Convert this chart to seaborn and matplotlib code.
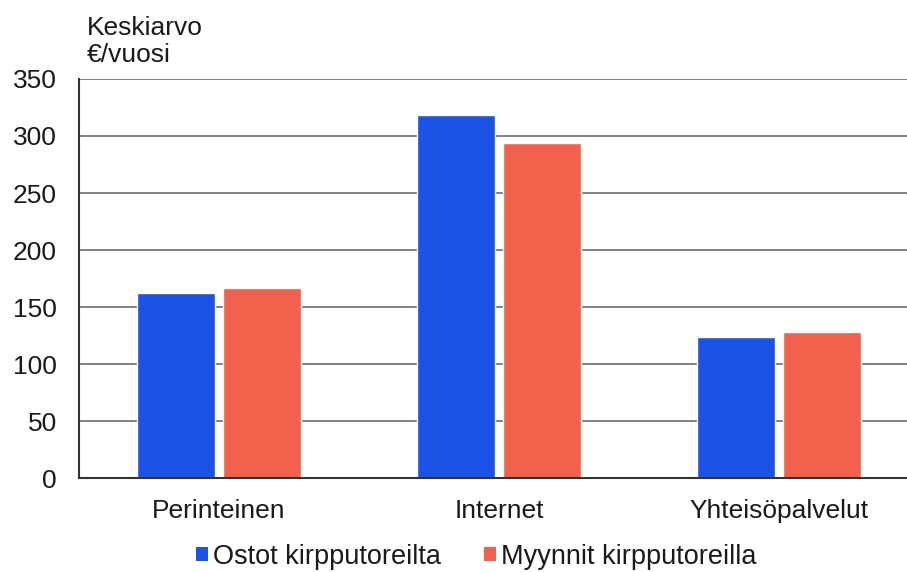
import matplotlib
matplotlib.use("Agg")
import matplotlib.pyplot as plt
import seaborn as sns
import pandas as pd
from matplotlib.patches import Patch

categories = ["Perinteinen", "Internet", "Yhteisöpalvelut"]
series_names = ["Ostot kirpputoreilta", "Myynnit kirpputoreilla"]
ostot = [162, 318, 124]
myynnit = [167, 294, 128]
y_ticks = [0, 50, 100, 150, 200, 250, 300, 350]

colors = ["#1a53e6", "#f0624b"]

df = pd.DataFrame({
    "kategoria": categories * 2,
    "sarja": [series_names[0]] * 3 + [series_names[1]] * 3,
    "arvo": ostot + myynnit,
})

sns.set_theme(style="white")
plt.rcParams["font.family"] = ["Liberation Sans", "DejaVu Sans"]

FS = 19
LEG_FS = 19.5
TXT = "#1a1a1a"

fig = plt.figure(figsize=(9.07, 5.72), dpi=100)
ax = fig.add_axes([0.0871, 0.1643, 0.9129, 0.6976])

sns.barplot(data=df, x="kategoria", y="arvo", hue="sarja", order=categories,
            hue_order=series_names, palette=colors, width=0.61, gap=0.09,
            saturation=1, legend=False, ax=ax)

ax.set_ylim(0, 350)
ax.set_xlim(-0.5, 2.457)
ax.set_yticks(y_ticks)
ax.set_yticklabels([str(t) for t in y_ticks], fontsize=FS, color=TXT)
ax.tick_params(axis="x", labelsize=FS, colors=TXT, length=0, pad=15)
ax.tick_params(axis="y", length=0, pad=16)
ax.set_xlabel("")
ax.set_ylabel("")

ax.yaxis.grid(True, color="#808080", linewidth=1.4)
ax.set_axisbelow(True)
for side in ["top", "right"]:
    ax.spines[side].set_visible(False)
ax.spines["left"].set_color("#333333")
ax.spines["left"].set_linewidth(1.5)
ax.spines["bottom"].set_color("#333333")
ax.spines["bottom"].set_linewidth(1.5)

fig.text(0.096, 0.930, "Keskiarvo", fontsize=FS, color=TXT, va="bottom")
fig.text(0.096, 0.882, "€/vuosi", fontsize=FS, color=TXT, va="bottom")

handles = [Patch(facecolor=c, edgecolor="none") for c in colors]
leg = fig.legend(handles, series_names, loc="center", bbox_to_anchor=(0.525, 0.027),
                 ncol=2, frameon=False, fontsize=LEG_FS, handlelength=0.44,
                 handleheight=0.44, handletextpad=0.19, columnspacing=1.6)
for t in leg.get_texts():
    t.set_color(TXT)

fig.savefig("out.png", dpi=100, facecolor="white")
